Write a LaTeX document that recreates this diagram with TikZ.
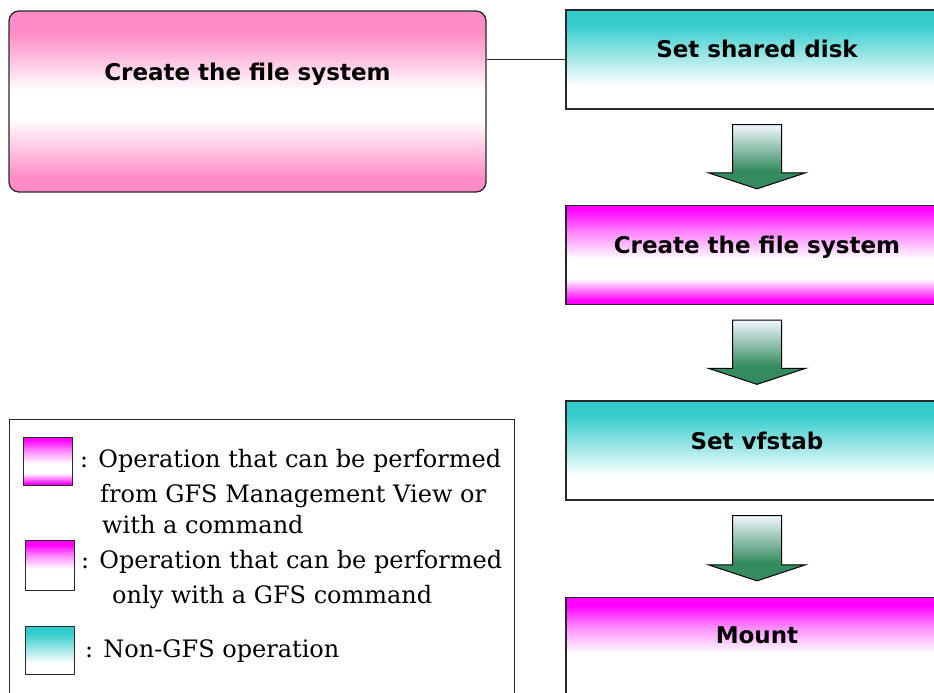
\documentclass[tikz,border=0pt]{standalone}
\usepackage{fontspec}
\newfontfamily\boxfont{DejaVu Sans}
\newfontfamily\legendfont{DejaVu Serif}
\usetikzlibrary{calc, positioning}

\definecolor{tealop}{RGB}{51,204,204}
\definecolor{tealmid}{RGB}{150,228,228}
\definecolor{magentaop}{RGB}{255,0,255}
\definecolor{magentamid}{RGB}{255,140,255}
\definecolor{pinkop}{RGB}{255,140,198}
\definecolor{arrowgreen}{RGB}{52,140,94}
\definecolor{arrowtop}{RGB}{242,246,255}
\definecolor{edgegray}{RGB}{40,40,40}

\pgfdeclareverticalshading{nongfs}{100bp}{color(0bp)=(white); color(25bp)=(white); color(37bp)=(white); color(53bp)=(tealmid); color(68bp)=(tealop); color(100bp)=(tealop)}
\pgfdeclareverticalshading{gfsonly}{100bp}{color(0bp)=(white); color(25bp)=(white); color(47bp)=(white); color(60bp)=(magentamid); color(71bp)=(magentaop); color(100bp)=(magentaop)}
\pgfdeclareverticalshading{gfsview}{100bp}{color(0bp)=(magentaop); color(27bp)=(magentaop); color(38bp)=(white); color(48bp)=(white); color(61bp)=(magentamid); color(73bp)=(magentaop); color(100bp)=(magentaop)}
\pgfdeclareverticalshading{fsgroup}{100bp}{color(0bp)=(pinkop); color(29bp)=(pinkop); color(45bp)=(white); color(53bp)=(white); color(69bp)=(pinkop); color(100bp)=(pinkop)}
\pgfdeclareverticalshading{arrowfade}{100bp}{color(0bp)=(arrowgreen); color(39bp)=(arrowgreen); color(75bp)=(arrowtop); color(100bp)=(arrowtop)}

% block arrow from the box above (#1) to the box below (#2)
\newcommand{\flowarrow}[2]{%
  \draw[arrowline, shade, shading=arrowfade]
    ($(#1.south)+(-24.5,15)$) -- ($(#2.north)+(-24.5,-32)$) -- ++(-24,0)
    -- ($(#2.north)+(0,-16)$) -- ($(#2.north)+(48.5,-32)$) -- ++(-24,0)
    -- ($(#1.south)+(24.5,15)$) -- cycle;}

\begin{document}
\begin{tikzpicture}[x=1pt, y=-1pt,
    opbox/.style={draw=edgegray, line width=1.3pt, shade, minimum width=382pt, minimum height=99pt, inner sep=0pt},
    boxtext/.style={font=\boxfont\bfseries\fontsize{23}{27}\selectfont},
    legtext/.style={font=\legendfont\fontsize{24}{28}\selectfont, anchor=base west, inner sep=0pt},
    swatch/.style={draw=edgegray, line width=1.4pt, shade, minimum width=49pt, minimum height=48pt, inner sep=0pt, anchor=north west},
    arrowline/.style={draw=black, line width=1pt}]
  \clip (0,0) rectangle (934,693);

  % left group box
  \node[draw=edgegray, line width=1.3pt, rounded corners=10pt, shade, shading=fsgroup,
        minimum width=477pt, minimum height=181pt] (fsgroup) at (247.5,101.5) {};
  \node[boxtext] (fsgrouptxt) at ($(fsgroup.north)+(0,64)$) {Create the file system};

  % steps
  \node[opbox, shading=nongfs] (shared) at (757,59.5) {};
  \node[boxtext] (sharedtxt) at ($(shared.north)+(0,40)$) {Set shared disk};
  \node[opbox, shading=gfsview] (create) at (757,255) {};
  \node[boxtext] (createtxt) at ($(create.north)+(0,42)$) {Create the file system};
  \node[opbox, shading=nongfs] (vfstab) at (757,450.5) {};
  \node[boxtext] (vfstabtxt) at ($(vfstab.north)+(0,41)$) {Set vfstab};
  \node[opbox, shading=gfsonly] (mount) at (757,647) {};
  \node[boxtext] (mounttxt) at ($(mount.north)+(0,38)$) {Mount};

  \draw[edgegray, line width=1.2pt] (shared.west) -- (shared.west -| fsgroup.east);

  \flowarrow{shared}{create}
  \flowarrow{create}{vfstab}
  \flowarrow{vfstab}{mount}

  % legend
  \node[draw=edgegray, line width=1.2pt, minimum width=505pt, minimum height=300pt,
        inner sep=0pt, anchor=north west] (legend) at (9,419) {};
  \node[swatch, shading=gfsview] (keyview) at (23,437) {};
  \node[swatch, shading=gfsonly, minimum height=50pt] (keyonly) at (25,540) {};
  \node[swatch, shading=nongfs] (keynon) at (25,626) {};

  \node[legtext] (viewline1) at (80,467) {: Operation that can be performed};
  \node[legtext] (viewline2) at (100,502) {from GFS Management View or};
  \node[legtext] (viewline3) at (102,533) {with a command};
  \node[legtext] (onlyline1) at (81,568) {: Operation that can be performed};
  \node[legtext] (onlyline2) at (112,603) {only with a GFS command};
  \node[legtext] (nonline) at (85,657) {: Non-GFS operation};
\end{tikzpicture}
\end{document}
